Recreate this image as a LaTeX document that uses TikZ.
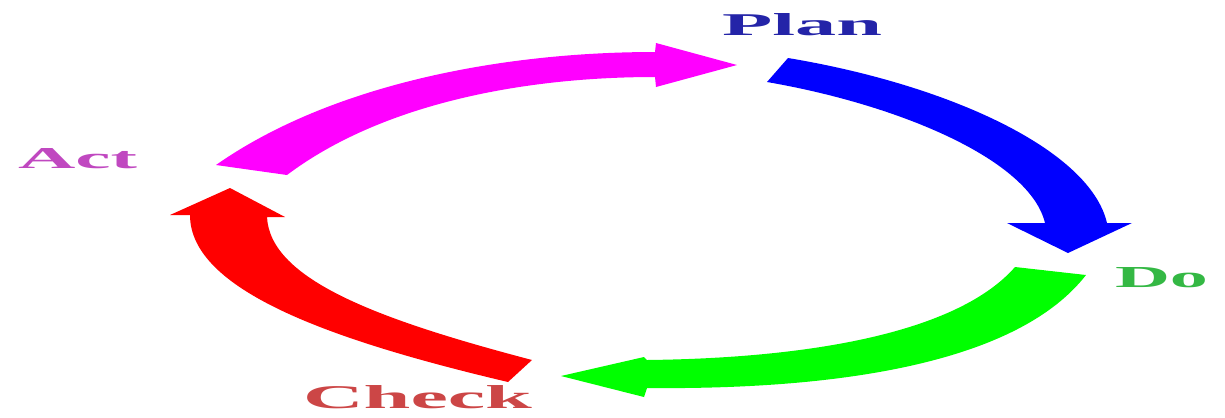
\documentclass[tikz,border=0pt]{standalone}
\usepackage{fontspec}
\usepackage{graphicx}
\setmainfont{Liberation Serif}
\definecolor{amag}{HTML}{FF00FF}
\definecolor{ablue}{HTML}{0000FF}
\definecolor{agreen}{HTML}{00FF00}
\definecolor{ared}{HTML}{FF0000}
\definecolor{tplan}{HTML}{2424A8}
\definecolor{tdo}{HTML}{34B844}
\definecolor{tcheck}{HTML}{CC4646}
\definecolor{tact}{HTML}{C048C0}
\tikzset{
  lbl/.style={inner sep=0pt, outer sep=0pt, anchor=base west, font=\bfseries},
  band/.style={draw=none}
}
\begin{document}
\begin{tikzpicture}[x=0.02cm, y=-0.02cm]
\useasboundingbox (0,0) rectangle (1225,417);
% Act -> Plan (magenta)
\fill[amag, band] (216,165) .. controls (330,85) and (500,52) .. (655,52)
  -- (656,43) -- (737,65) -- (656,87) -- (655,77)
  .. controls (520,77) and (380,105) .. (287,175) -- cycle;
% Plan -> Do (blue)
\fill[ablue, band] (788,58) .. controls (950,85) and (1090,150) .. (1107,223)
  -- (1132,223) -- (1068,253) -- (1007,223) -- (1045,223)
  .. controls (1030,160) and (900,105) .. (767,82) -- cycle;
% Do -> Check (green)
\fill[agreen, band] (1086,275) .. controls (1020,360) and (850,390) .. (647,388)
  -- (644,397) -- (561,376) -- (644,357) -- (647,360)
  .. controls (820,358) and (960,330) .. (1015,267) -- cycle;
% Check -> Act (red)
\fill[ared, band] (508,382) .. controls (330,340) and (190,290) .. (190,215)
  -- (170,215) -- (230,188) -- (285,217) -- (267,217)
  .. controls (270,280) and (380,320) .. (532,360) -- cycle;
% labels
\node[lbl, text=tplan] (plan) at (722,35) {\resizebox{3.2cm}{0.44cm}{Plan}};
\node[lbl, text=tdo] (do) at (1115,287) {\resizebox{1.86cm}{0.40cm}{Do}};
\node[lbl, text=tcheck] (check) at (303,408) {\resizebox{4.58cm}{0.46cm}{Check}};
\node[lbl, text=tact] (act) at (18,168) {\resizebox{2.38cm}{0.40cm}{Act}};
\end{tikzpicture}
\end{document}
